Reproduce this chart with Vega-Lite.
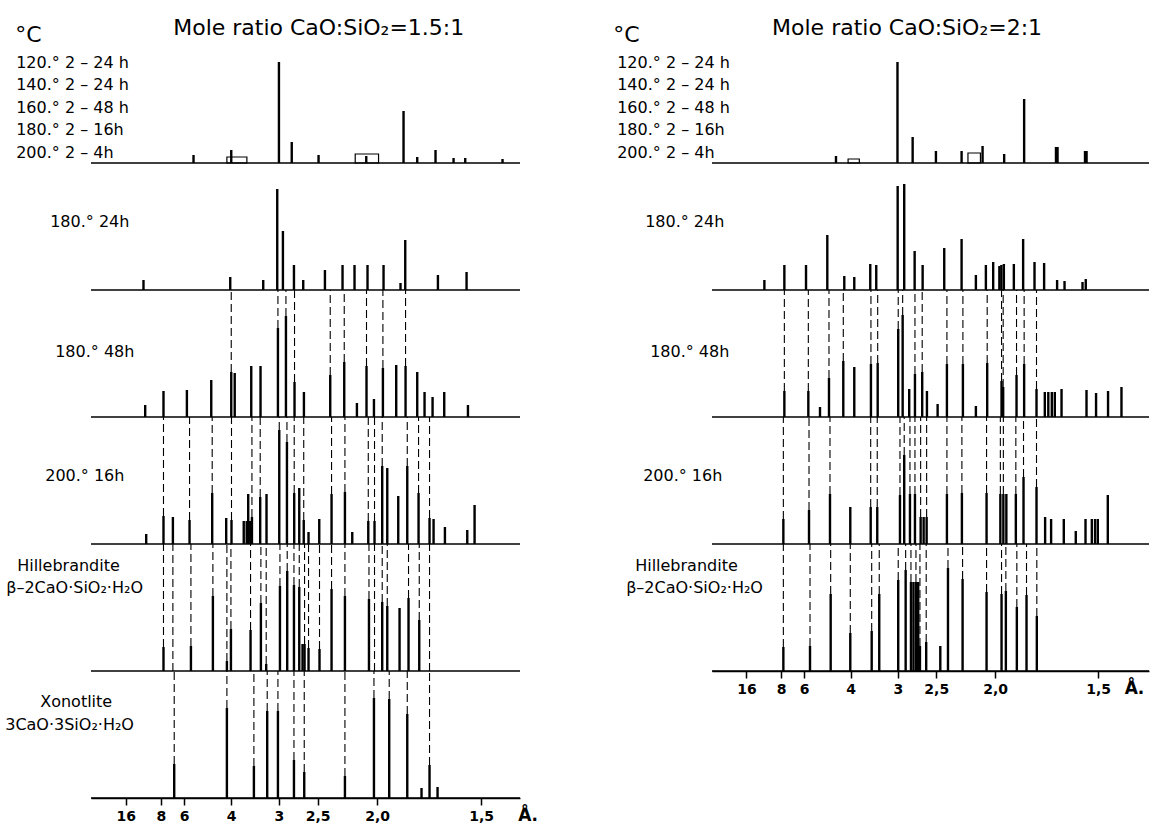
{
  "$schema": "https://vega.github.io/schema/vega-lite/v6.json",
  "background": "white",
  "padding": {"left": 5, "top": 17, "right": 5, "bottom": 2},
  "spacing": 75,
  "config": {
    "view": {"stroke": null},
    "font": "DejaVu Sans",
    "axisX": {
      "title": null, "grid": false,
      "domain": true, "domainColor": "#000", "domainWidth": 1.6,
      "ticks": true, "tickColor": "#000", "tickSize": 7, "tickWidth": 1.5,
      "labelFont": "DejaVu Sans", "labelFontWeight": "bold", "labelFontSize": 14,
      "labelColor": "#000", "labelPadding": 4, "labelOverlap": false
    },
    "rule": {"color": "#000"},
    "text": {"color": "#000", "font": "DejaVu Sans", "align": "left", "baseline": "alphabetic"}
  },
  "datasets": {
    "xrd": [
      {"ratio": "1.5:1", "r": 1, "k": "base", "i": 0},
      {"ratio": "1.5:1", "r": 2, "k": "base", "i": 0},
      {"ratio": "1.5:1", "r": 3, "k": "base", "i": 0},
      {"ratio": "1.5:1", "r": 4, "k": "base", "i": 0},
      {"ratio": "1.5:1", "r": 5, "k": "base", "i": 0},
      {"ratio": "1.5:1", "r": 6, "k": "base", "i": 0},
      {"ratio": "2:1", "r": 1, "k": "base", "i": 0},
      {"ratio": "2:1", "r": 2, "k": "base", "i": 0},
      {"ratio": "2:1", "r": 3, "k": "base", "i": 0},
      {"ratio": "2:1", "r": 4, "k": "base", "i": 0},
      {"ratio": "2:1", "r": 5, "k": "base", "i": 0},

      {"ratio": "1.5:1", "r": 1, "k": "title", "t": -12.02, "i": 121, "txt": "°C"},
      {"ratio": "1.5:1", "r": 1, "k": "title", "t": 13.03, "i": 128, "txt": "Mole ratio CaO:SiO₂=1.5:1"},
      {"ratio": "1.5:1", "r": 1, "k": "label", "t": -11.86, "i": 95, "txt": "120.° 2 – 24 h"},
      {"ratio": "1.5:1", "r": 1, "k": "label", "t": -11.86, "i": 73, "txt": "140.° 2 – 24 h"},
      {"ratio": "1.5:1", "r": 1, "k": "label", "t": -11.86, "i": 50, "txt": "160.° 2 – 48 h"},
      {"ratio": "1.5:1", "r": 1, "k": "label", "t": -11.86, "i": 28, "txt": "180.° 2 – 16h"},
      {"ratio": "1.5:1", "r": 1, "k": "label", "t": -11.86, "i": 5, "txt": "200.° 2 – 4h"},
      {"ratio": "1.5:1", "r": 2, "k": "label", "t": -6.47, "i": 63, "txt": "180.° 24h"},
      {"ratio": "1.5:1", "r": 3, "k": "label", "t": -5.68, "i": 60, "txt": "180.° 48h"},
      {"ratio": "1.5:1", "r": 4, "k": "label", "t": -7.26, "i": 63, "txt": "200.° 16h"},
      {"ratio": "1.5:1", "r": 5, "k": "label", "t": -11.7, "i": 100, "txt": "Hillebrandite"},
      {"ratio": "1.5:1", "r": 5, "k": "label", "t": -13.44, "i": 78, "txt": "β–2CaO·SiO₂·H₂O"},
      {"ratio": "1.5:1", "r": 6, "k": "label", "t": -8.05, "i": 91, "txt": "Xonotlite"},
      {"ratio": "1.5:1", "r": 6, "k": "label", "t": -13.6, "i": 68, "txt": "3CaO·3SiO₂·H₂O"},
      {"ratio": "1.5:1", "r": 6, "k": "unit", "t": 67.72, "i": -23, "txt": "Å."},

      {"ratio": "2:1", "r": 1, "k": "title", "t": -15.83, "i": 121, "txt": "°C"},
      {"ratio": "2:1", "r": 1, "k": "title", "t": 9.62, "i": 128, "txt": "Mole ratio CaO:SiO₂=2:1"},
      {"ratio": "2:1", "r": 1, "k": "label", "t": -15.19, "i": 95, "txt": "120.° 2 – 24 h"},
      {"ratio": "2:1", "r": 1, "k": "label", "t": -15.19, "i": 73, "txt": "140.° 2 – 24 h"},
      {"ratio": "2:1", "r": 1, "k": "label", "t": -15.19, "i": 50, "txt": "160.° 2 – 48 h"},
      {"ratio": "2:1", "r": 1, "k": "label", "t": -15.19, "i": 28, "txt": "180.° 2 – 16h"},
      {"ratio": "2:1", "r": 1, "k": "label", "t": -15.19, "i": 5, "txt": "200.° 2 – 4h"},
      {"ratio": "2:1", "r": 2, "k": "label", "t": -10.71, "i": 63, "txt": "180.° 24h"},
      {"ratio": "2:1", "r": 3, "k": "label", "t": -9.91, "i": 60, "txt": "180.° 48h"},
      {"ratio": "2:1", "r": 4, "k": "label", "t": -11.03, "i": 63, "txt": "200.° 16h"},
      {"ratio": "2:1", "r": 5, "k": "label", "t": -12.31, "i": 100, "txt": "Hillebrandite"},
      {"ratio": "2:1", "r": 5, "k": "label", "t": -13.75, "i": 78, "txt": "β–2CaO·SiO₂·H₂O"},
      {"ratio": "2:1", "r": 5, "k": "unit", "t": 66.1, "i": -23, "txt": "Å."},

      {"ratio": "1.5:1", "r": 1, "k": "hump", "t": 21.54, "t2": 24.71, "i": 6},
      {"ratio": "1.5:1", "r": 1, "k": "hump", "t": 41.88, "t2": 45.58, "i": 9},
      {"ratio": "2:1", "r": 1, "k": "hump", "t": 21.8, "t2": 23.6, "i": 4},
      {"ratio": "2:1", "r": 1, "k": "hump", "t": 41.0, "t2": 43.0, "i": 10},

      {"ratio": "1.5:1", "r": 1, "k": "peak", "t": 16.25, "i": 8},
      {"ratio": "1.5:1", "r": 1, "k": "peak", "t": 22.23, "i": 13},
      {"ratio": "1.5:1", "r": 1, "k": "peak", "t": 29.79, "i": 101},
      {"ratio": "1.5:1", "r": 1, "k": "peak", "t": 31.82, "i": 21},
      {"ratio": "1.5:1", "r": 1, "k": "peak", "t": 36.07, "i": 8},
      {"ratio": "1.5:1", "r": 1, "k": "peak", "t": 43.63, "i": 7},
      {"ratio": "1.5:1", "r": 1, "k": "peak", "t": 49.54, "i": 52},
      {"ratio": "1.5:1", "r": 1, "k": "peak", "t": 51.71, "i": 6},
      {"ratio": "1.5:1", "r": 1, "k": "peak", "t": 54.61, "i": 13},
      {"ratio": "1.5:1", "r": 1, "k": "peak", "t": 57.47, "i": 5},
      {"ratio": "1.5:1", "r": 1, "k": "peak", "t": 59.32, "i": 5},
      {"ratio": "1.5:1", "r": 1, "k": "peak", "t": 65.23, "i": 4},

      {"ratio": "1.5:1", "r": 2, "k": "peak", "t": 8.32, "i": 10},
      {"ratio": "1.5:1", "r": 2, "k": "peak", "t": 22.07, "i": 13},
      {"ratio": "1.5:1", "r": 2, "k": "peak", "t": 27.3, "i": 10},
      {"ratio": "1.5:1", "r": 2, "k": "peak", "t": 29.52, "i": 101},
      {"ratio": "1.5:1", "r": 2, "k": "peak", "t": 30.42, "i": 59},
      {"ratio": "1.5:1", "r": 2, "k": "peak", "t": 32.17, "i": 25},
      {"ratio": "1.5:1", "r": 2, "k": "peak", "t": 33.64, "i": 10},
      {"ratio": "1.5:1", "r": 2, "k": "peak", "t": 37.08, "i": 20},
      {"ratio": "1.5:1", "r": 2, "k": "peak", "t": 39.87, "i": 25},
      {"ratio": "1.5:1", "r": 2, "k": "peak", "t": 41.77, "i": 25},
      {"ratio": "1.5:1", "r": 2, "k": "peak", "t": 43.83, "i": 25},
      {"ratio": "1.5:1", "r": 2, "k": "peak", "t": 46.37, "i": 25},
      {"ratio": "1.5:1", "r": 2, "k": "peak", "t": 49.06, "i": 7},
      {"ratio": "1.5:1", "r": 2, "k": "peak", "t": 49.81, "i": 50},
      {"ratio": "1.5:1", "r": 2, "k": "peak", "t": 54.99, "i": 15},
      {"ratio": "1.5:1", "r": 2, "k": "peak", "t": 59.53, "i": 18},

      {"ratio": "1.5:1", "r": 3, "k": "peak", "t": 8.59, "i": 12},
      {"ratio": "1.5:1", "r": 3, "k": "peak", "t": 11.49, "i": 26},
      {"ratio": "1.5:1", "r": 3, "k": "peak", "t": 15.2, "i": 27},
      {"ratio": "1.5:1", "r": 3, "k": "peak", "t": 19.06, "i": 37},
      {"ratio": "1.5:1", "r": 3, "k": "peak", "t": 22.23, "i": 45, "l": 1},
      {"ratio": "1.5:1", "r": 3, "k": "peak", "t": 22.78, "i": 44},
      {"ratio": "1.5:1", "r": 3, "k": "peak", "t": 25.4, "i": 51},
      {"ratio": "1.5:1", "r": 3, "k": "peak", "t": 26.87, "i": 51},
      {"ratio": "1.5:1", "r": 3, "k": "peak", "t": 29.63, "i": 89, "l": 1},
      {"ratio": "1.5:1", "r": 3, "k": "peak", "t": 30.9, "i": 101, "l": 1},
      {"ratio": "1.5:1", "r": 3, "k": "peak", "t": 32.26, "i": 35, "l": 1},
      {"ratio": "1.5:1", "r": 3, "k": "peak", "t": 33.75, "i": 25},
      {"ratio": "1.5:1", "r": 3, "k": "peak", "t": 37.92, "i": 42, "l": 1},
      {"ratio": "1.5:1", "r": 3, "k": "peak", "t": 40.14, "i": 55, "l": 1},
      {"ratio": "1.5:1", "r": 3, "k": "peak", "t": 42.15, "i": 14},
      {"ratio": "1.5:1", "r": 3, "k": "peak", "t": 43.67, "i": 51, "l": 1},
      {"ratio": "1.5:1", "r": 3, "k": "peak", "t": 44.85, "i": 18},
      {"ratio": "1.5:1", "r": 3, "k": "peak", "t": 46.27, "i": 49, "l": 1},
      {"ratio": "1.5:1", "r": 3, "k": "peak", "t": 48.38, "i": 52},
      {"ratio": "1.5:1", "r": 3, "k": "peak", "t": 49.86, "i": 51, "l": 1},
      {"ratio": "1.5:1", "r": 3, "k": "peak", "t": 51.71, "i": 45},
      {"ratio": "1.5:1", "r": 3, "k": "peak", "t": 52.87, "i": 25},
      {"ratio": "1.5:1", "r": 3, "k": "peak", "t": 54.14, "i": 20},
      {"ratio": "1.5:1", "r": 3, "k": "peak", "t": 55.99, "i": 25},
      {"ratio": "1.5:1", "r": 3, "k": "peak", "t": 59.75, "i": 12},

      {"ratio": "1.5:1", "r": 4, "k": "peak", "t": 8.75, "i": 10},
      {"ratio": "1.5:1", "r": 4, "k": "peak", "t": 11.49, "i": 28, "l": 1},
      {"ratio": "1.5:1", "r": 4, "k": "peak", "t": 12.98, "i": 27},
      {"ratio": "1.5:1", "r": 4, "k": "peak", "t": 15.62, "i": 24, "l": 1},
      {"ratio": "1.5:1", "r": 4, "k": "peak", "t": 19.21, "i": 51, "l": 1},
      {"ratio": "1.5:1", "r": 4, "k": "peak", "t": 21.43, "i": 26},
      {"ratio": "1.5:1", "r": 4, "k": "peak", "t": 22.27, "i": 24, "l": 1},
      {"ratio": "1.5:1", "r": 4, "k": "peak", "t": 24.21, "i": 23},
      {"ratio": "1.5:1", "r": 4, "k": "peak", "t": 24.68, "i": 23},
      {"ratio": "1.5:1", "r": 4, "k": "peak", "t": 24.92, "i": 50},
      {"ratio": "1.5:1", "r": 4, "k": "peak", "t": 25.24, "i": 23},
      {"ratio": "1.5:1", "r": 4, "k": "peak", "t": 25.51, "i": 27, "l": 1},
      {"ratio": "1.5:1", "r": 4, "k": "peak", "t": 26.82, "i": 47, "l": 1},
      {"ratio": "1.5:1", "r": 4, "k": "peak", "t": 27.82, "i": 50},
      {"ratio": "1.5:1", "r": 4, "k": "peak", "t": 29.84, "i": 114, "l": 1},
      {"ratio": "1.5:1", "r": 4, "k": "peak", "t": 31.06, "i": 102, "l": 1},
      {"ratio": "1.5:1", "r": 4, "k": "peak", "t": 32.21, "i": 51, "l": 1},
      {"ratio": "1.5:1", "r": 4, "k": "peak", "t": 33.01, "i": 56},
      {"ratio": "1.5:1", "r": 4, "k": "peak", "t": 33.72, "i": 24, "l": 1},
      {"ratio": "1.5:1", "r": 4, "k": "peak", "t": 34.48, "i": 12},
      {"ratio": "1.5:1", "r": 4, "k": "peak", "t": 36.18, "i": 25},
      {"ratio": "1.5:1", "r": 4, "k": "peak", "t": 38.13, "i": 50, "l": 1},
      {"ratio": "1.5:1", "r": 4, "k": "peak", "t": 40.25, "i": 52, "l": 1},
      {"ratio": "1.5:1", "r": 4, "k": "peak", "t": 41.41, "i": 12},
      {"ratio": "1.5:1", "r": 4, "k": "peak", "t": 43.95, "i": 23, "l": 1},
      {"ratio": "1.5:1", "r": 4, "k": "peak", "t": 44.94, "i": 23, "l": 1},
      {"ratio": "1.5:1", "r": 4, "k": "peak", "t": 46.16, "i": 78, "l": 1},
      {"ratio": "1.5:1", "r": 4, "k": "peak", "t": 46.96, "i": 76},
      {"ratio": "1.5:1", "r": 4, "k": "peak", "t": 48.7, "i": 48},
      {"ratio": "1.5:1", "r": 4, "k": "peak", "t": 50.13, "i": 78, "l": 1},
      {"ratio": "1.5:1", "r": 4, "k": "peak", "t": 51.92, "i": 51, "l": 1},
      {"ratio": "1.5:1", "r": 4, "k": "peak", "t": 53.66, "i": 26, "l": 1},
      {"ratio": "1.5:1", "r": 4, "k": "peak", "t": 54.3, "i": 25},
      {"ratio": "1.5:1", "r": 4, "k": "peak", "t": 56.1, "i": 17},
      {"ratio": "1.5:1", "r": 4, "k": "peak", "t": 59.64, "i": 14},
      {"ratio": "1.5:1", "r": 4, "k": "peak", "t": 60.8, "i": 39},

      {"ratio": "1.5:1", "r": 5, "k": "peak", "t": 11.49, "i": 24, "l": 1},
      {"ratio": "1.5:1", "r": 5, "k": "peak", "t": 12.98, "i": 0, "l": 1},
      {"ratio": "1.5:1", "r": 5, "k": "peak", "t": 15.84, "i": 25, "l": 1},
      {"ratio": "1.5:1", "r": 5, "k": "peak", "t": 19.32, "i": 75, "l": 1},
      {"ratio": "1.5:1", "r": 5, "k": "peak", "t": 21.54, "i": 10, "l": 1},
      {"ratio": "1.5:1", "r": 5, "k": "peak", "t": 22.18, "i": 42, "l": 1},
      {"ratio": "1.5:1", "r": 5, "k": "peak", "t": 25.29, "i": 41, "l": 1},
      {"ratio": "1.5:1", "r": 5, "k": "peak", "t": 26.93, "i": 68, "l": 1},
      {"ratio": "1.5:1", "r": 5, "k": "peak", "t": 27.77, "i": 7, "l": 1},
      {"ratio": "1.5:1", "r": 5, "k": "peak", "t": 29.95, "i": 85, "l": 1},
      {"ratio": "1.5:1", "r": 5, "k": "peak", "t": 31.1, "i": 100, "l": 1},
      {"ratio": "1.5:1", "r": 5, "k": "peak", "t": 32.17, "i": 86, "l": 1},
      {"ratio": "1.5:1", "r": 5, "k": "peak", "t": 33.01, "i": 84, "l": 1},
      {"ratio": "1.5:1", "r": 5, "k": "peak", "t": 33.53, "i": 27},
      {"ratio": "1.5:1", "r": 5, "k": "peak", "t": 33.85, "i": 27, "l": 1},
      {"ratio": "1.5:1", "r": 5, "k": "peak", "t": 34.48, "i": 23, "l": 1},
      {"ratio": "1.5:1", "r": 5, "k": "peak", "t": 36.22, "i": 22, "l": 1},
      {"ratio": "1.5:1", "r": 5, "k": "peak", "t": 38.13, "i": 82, "l": 1},
      {"ratio": "1.5:1", "r": 5, "k": "peak", "t": 40.25, "i": 75, "l": 1},
      {"ratio": "1.5:1", "r": 5, "k": "peak", "t": 44.06, "i": 72, "l": 1},
      {"ratio": "1.5:1", "r": 5, "k": "peak", "t": 44.94, "i": 0, "l": 1},
      {"ratio": "1.5:1", "r": 5, "k": "peak", "t": 46.16, "i": 69, "l": 1},
      {"ratio": "1.5:1", "r": 5, "k": "peak", "t": 46.96, "i": 65, "l": 1},
      {"ratio": "1.5:1", "r": 5, "k": "peak", "t": 48.91, "i": 63},
      {"ratio": "1.5:1", "r": 5, "k": "peak", "t": 50.33, "i": 73, "l": 1},
      {"ratio": "1.5:1", "r": 5, "k": "peak", "t": 52.03, "i": 51, "l": 1},
      {"ratio": "1.5:1", "r": 5, "k": "peak", "t": 53.66, "i": 0, "l": 1},

      {"ratio": "1.5:1", "r": 6, "k": "peak", "t": 13.19, "i": 34, "l": 1},
      {"ratio": "1.5:1", "r": 6, "k": "peak", "t": 21.54, "i": 90, "l": 1},
      {"ratio": "1.5:1", "r": 6, "k": "peak", "t": 25.82, "i": 32, "l": 1},
      {"ratio": "1.5:1", "r": 6, "k": "peak", "t": 27.93, "i": 87, "l": 1},
      {"ratio": "1.5:1", "r": 6, "k": "peak", "t": 29.63, "i": 87, "l": 1},
      {"ratio": "1.5:1", "r": 6, "k": "peak", "t": 32.17, "i": 38, "l": 1},
      {"ratio": "1.5:1", "r": 6, "k": "peak", "t": 33.8, "i": 26, "l": 1},
      {"ratio": "1.5:1", "r": 6, "k": "peak", "t": 40.25, "i": 22, "l": 1},
      {"ratio": "1.5:1", "r": 6, "k": "peak", "t": 44.85, "i": 100, "l": 1},
      {"ratio": "1.5:1", "r": 6, "k": "peak", "t": 47.27, "i": 99, "l": 1},
      {"ratio": "1.5:1", "r": 6, "k": "peak", "t": 50.13, "i": 84, "l": 1},
      {"ratio": "1.5:1", "r": 6, "k": "peak", "t": 52.39, "i": 10},
      {"ratio": "1.5:1", "r": 6, "k": "peak", "t": 53.66, "i": 33, "l": 1},
      {"ratio": "1.5:1", "r": 6, "k": "peak", "t": 54.93, "i": 11},

      {"ratio": "2:1", "r": 1, "k": "peak", "t": 19.86, "i": 7},
      {"ratio": "2:1", "r": 1, "k": "peak", "t": 29.71, "i": 101},
      {"ratio": "2:1", "r": 1, "k": "peak", "t": 32.14, "i": 26},
      {"ratio": "2:1", "r": 1, "k": "peak", "t": 35.87, "i": 12},
      {"ratio": "2:1", "r": 1, "k": "peak", "t": 39.98, "i": 12},
      {"ratio": "2:1", "r": 1, "k": "peak", "t": 43.34, "i": 17},
      {"ratio": "2:1", "r": 1, "k": "peak", "t": 46.8, "i": 9},
      {"ratio": "2:1", "r": 1, "k": "peak", "t": 50.0, "i": 64},
      {"ratio": "2:1", "r": 1, "k": "peak", "t": 55.1, "i": 16},
      {"ratio": "2:1", "r": 1, "k": "peak", "t": 55.35, "i": 16},
      {"ratio": "2:1", "r": 1, "k": "peak", "t": 59.75, "i": 12},
      {"ratio": "2:1", "r": 1, "k": "peak", "t": 60.0, "i": 12},

      {"ratio": "2:1", "r": 2, "k": "peak", "t": 8.39, "i": 10},
      {"ratio": "2:1", "r": 2, "k": "peak", "t": 11.59, "i": 25},
      {"ratio": "2:1", "r": 2, "k": "peak", "t": 15.06, "i": 25},
      {"ratio": "2:1", "r": 2, "k": "peak", "t": 18.47, "i": 55},
      {"ratio": "2:1", "r": 2, "k": "peak", "t": 21.19, "i": 14},
      {"ratio": "2:1", "r": 2, "k": "peak", "t": 22.79, "i": 13},
      {"ratio": "2:1", "r": 2, "k": "peak", "t": 25.35, "i": 26},
      {"ratio": "2:1", "r": 2, "k": "peak", "t": 26.31, "i": 25},
      {"ratio": "2:1", "r": 2, "k": "peak", "t": 29.74, "i": 104},
      {"ratio": "2:1", "r": 2, "k": "peak", "t": 30.79, "i": 106},
      {"ratio": "2:1", "r": 2, "k": "peak", "t": 32.46, "i": 39},
      {"ratio": "2:1", "r": 2, "k": "peak", "t": 33.74, "i": 25},
      {"ratio": "2:1", "r": 2, "k": "peak", "t": 37.2, "i": 42},
      {"ratio": "2:1", "r": 2, "k": "peak", "t": 39.98, "i": 51},
      {"ratio": "2:1", "r": 2, "k": "peak", "t": 42.27, "i": 15},
      {"ratio": "2:1", "r": 2, "k": "peak", "t": 43.87, "i": 25},
      {"ratio": "2:1", "r": 2, "k": "peak", "t": 45.04, "i": 28},
      {"ratio": "2:1", "r": 2, "k": "peak", "t": 46.03, "i": 24},
      {"ratio": "2:1", "r": 2, "k": "peak", "t": 46.35, "i": 25},
      {"ratio": "2:1", "r": 2, "k": "peak", "t": 46.75, "i": 26},
      {"ratio": "2:1", "r": 2, "k": "peak", "t": 48.35, "i": 26},
      {"ratio": "2:1", "r": 2, "k": "peak", "t": 49.84, "i": 51},
      {"ratio": "2:1", "r": 2, "k": "peak", "t": 51.66, "i": 28},
      {"ratio": "2:1", "r": 2, "k": "peak", "t": 53.2, "i": 27},
      {"ratio": "2:1", "r": 2, "k": "peak", "t": 55.28, "i": 10},
      {"ratio": "2:1", "r": 2, "k": "peak", "t": 56.47, "i": 9},
      {"ratio": "2:1", "r": 2, "k": "peak", "t": 59.35, "i": 8},
      {"ratio": "2:1", "r": 2, "k": "peak", "t": 59.87, "i": 11},

      {"ratio": "2:1", "r": 3, "k": "peak", "t": 11.59, "i": 26, "l": 1},
      {"ratio": "2:1", "r": 3, "k": "peak", "t": 15.43, "i": 26, "l": 1},
      {"ratio": "2:1", "r": 3, "k": "peak", "t": 17.3, "i": 10},
      {"ratio": "2:1", "r": 3, "k": "peak", "t": 18.74, "i": 39, "l": 1},
      {"ratio": "2:1", "r": 3, "k": "peak", "t": 21.03, "i": 56, "l": 1},
      {"ratio": "2:1", "r": 3, "k": "peak", "t": 22.79, "i": 50},
      {"ratio": "2:1", "r": 3, "k": "peak", "t": 25.46, "i": 53, "l": 1},
      {"ratio": "2:1", "r": 3, "k": "peak", "t": 26.54, "i": 54, "l": 1},
      {"ratio": "2:1", "r": 3, "k": "peak", "t": 29.83, "i": 88, "l": 1},
      {"ratio": "2:1", "r": 3, "k": "peak", "t": 30.54, "i": 102, "l": 1},
      {"ratio": "2:1", "r": 3, "k": "peak", "t": 31.59, "i": 28},
      {"ratio": "2:1", "r": 3, "k": "peak", "t": 32.51, "i": 43, "l": 1},
      {"ratio": "2:1", "r": 3, "k": "peak", "t": 33.67, "i": 45, "l": 1},
      {"ratio": "2:1", "r": 3, "k": "peak", "t": 34.43, "i": 26},
      {"ratio": "2:1", "r": 3, "k": "peak", "t": 36.14, "i": 13},
      {"ratio": "2:1", "r": 3, "k": "peak", "t": 37.63, "i": 53, "l": 1},
      {"ratio": "2:1", "r": 3, "k": "peak", "t": 40.19, "i": 53, "l": 1},
      {"ratio": "2:1", "r": 3, "k": "peak", "t": 42.27, "i": 11},
      {"ratio": "2:1", "r": 3, "k": "peak", "t": 44.08, "i": 54, "l": 1},
      {"ratio": "2:1", "r": 3, "k": "peak", "t": 46.38, "i": 36, "l": 1},
      {"ratio": "2:1", "r": 3, "k": "peak", "t": 46.64, "i": 30, "l": 1},
      {"ratio": "2:1", "r": 3, "k": "peak", "t": 48.78, "i": 42, "l": 1},
      {"ratio": "2:1", "r": 3, "k": "peak", "t": 50.0, "i": 53, "l": 1},
      {"ratio": "2:1", "r": 3, "k": "peak", "t": 51.98, "i": 28, "l": 1},
      {"ratio": "2:1", "r": 3, "k": "peak", "t": 53.31, "i": 25},
      {"ratio": "2:1", "r": 3, "k": "peak", "t": 53.87, "i": 25},
      {"ratio": "2:1", "r": 3, "k": "peak", "t": 54.43, "i": 25},
      {"ratio": "2:1", "r": 3, "k": "peak", "t": 54.91, "i": 25},
      {"ratio": "2:1", "r": 3, "k": "peak", "t": 55.99, "i": 28},
      {"ratio": "2:1", "r": 3, "k": "peak", "t": 59.99, "i": 27},
      {"ratio": "2:1", "r": 3, "k": "peak", "t": 61.52, "i": 24},
      {"ratio": "2:1", "r": 3, "k": "peak", "t": 63.44, "i": 26},
      {"ratio": "2:1", "r": 3, "k": "peak", "t": 65.59, "i": 30},

      {"ratio": "2:1", "r": 4, "k": "peak", "t": 11.43, "i": 25, "l": 1},
      {"ratio": "2:1", "r": 4, "k": "peak", "t": 15.54, "i": 34, "l": 1},
      {"ratio": "2:1", "r": 4, "k": "peak", "t": 18.9, "i": 50, "l": 1},
      {"ratio": "2:1", "r": 4, "k": "peak", "t": 22.15, "i": 37},
      {"ratio": "2:1", "r": 4, "k": "peak", "t": 25.42, "i": 37, "l": 1},
      {"ratio": "2:1", "r": 4, "k": "peak", "t": 26.47, "i": 37, "l": 1},
      {"ratio": "2:1", "r": 4, "k": "peak", "t": 30.11, "i": 49, "l": 1},
      {"ratio": "2:1", "r": 4, "k": "peak", "t": 30.79, "i": 89, "l": 1},
      {"ratio": "2:1", "r": 4, "k": "peak", "t": 31.71, "i": 50, "l": 1},
      {"ratio": "2:1", "r": 4, "k": "peak", "t": 32.51, "i": 50, "l": 1},
      {"ratio": "2:1", "r": 4, "k": "peak", "t": 33.42, "i": 27, "l": 1},
      {"ratio": "2:1", "r": 4, "k": "peak", "t": 33.9, "i": 27},
      {"ratio": "2:1", "r": 4, "k": "peak", "t": 34.38, "i": 27, "l": 1},
      {"ratio": "2:1", "r": 4, "k": "peak", "t": 37.63, "i": 50, "l": 1},
      {"ratio": "2:1", "r": 4, "k": "peak", "t": 40.03, "i": 51, "l": 1},
      {"ratio": "2:1", "r": 4, "k": "peak", "t": 43.98, "i": 51, "l": 1},
      {"ratio": "2:1", "r": 4, "k": "peak", "t": 46.19, "i": 50, "l": 1},
      {"ratio": "2:1", "r": 4, "k": "peak", "t": 46.67, "i": 50, "l": 1},
      {"ratio": "2:1", "r": 4, "k": "peak", "t": 47.15, "i": 50},
      {"ratio": "2:1", "r": 4, "k": "peak", "t": 48.67, "i": 50, "l": 1},
      {"ratio": "2:1", "r": 4, "k": "peak", "t": 49.9, "i": 67, "l": 1},
      {"ratio": "2:1", "r": 4, "k": "peak", "t": 51.98, "i": 57, "l": 1},
      {"ratio": "2:1", "r": 4, "k": "peak", "t": 53.36, "i": 27},
      {"ratio": "2:1", "r": 4, "k": "peak", "t": 54.32, "i": 25},
      {"ratio": "2:1", "r": 4, "k": "peak", "t": 56.35, "i": 25},
      {"ratio": "2:1", "r": 4, "k": "peak", "t": 58.27, "i": 13},
      {"ratio": "2:1", "r": 4, "k": "peak", "t": 59.83, "i": 25},
      {"ratio": "2:1", "r": 4, "k": "peak", "t": 60.84, "i": 25},
      {"ratio": "2:1", "r": 4, "k": "peak", "t": 61.36, "i": 25},
      {"ratio": "2:1", "r": 4, "k": "peak", "t": 61.8, "i": 25},
      {"ratio": "2:1", "r": 4, "k": "peak", "t": 63.4, "i": 49},

      {"ratio": "2:1", "r": 5, "k": "peak", "t": 11.43, "i": 24, "l": 1},
      {"ratio": "2:1", "r": 5, "k": "peak", "t": 15.7, "i": 25, "l": 1},
      {"ratio": "2:1", "r": 5, "k": "peak", "t": 19.01, "i": 77, "l": 1},
      {"ratio": "2:1", "r": 5, "k": "peak", "t": 22.15, "i": 38, "l": 1},
      {"ratio": "2:1", "r": 5, "k": "peak", "t": 25.58, "i": 40, "l": 1},
      {"ratio": "2:1", "r": 5, "k": "peak", "t": 26.79, "i": 77, "l": 1},
      {"ratio": "2:1", "r": 5, "k": "peak", "t": 29.83, "i": 91, "l": 1},
      {"ratio": "2:1", "r": 5, "k": "peak", "t": 31.02, "i": 101, "l": 1},
      {"ratio": "2:1", "r": 5, "k": "peak", "t": 31.87, "i": 89, "l": 1},
      {"ratio": "2:1", "r": 5, "k": "peak", "t": 32.27, "i": 89},
      {"ratio": "2:1", "r": 5, "k": "peak", "t": 32.67, "i": 89, "l": 1},
      {"ratio": "2:1", "r": 5, "k": "peak", "t": 33.03, "i": 89},
      {"ratio": "2:1", "r": 5, "k": "peak", "t": 33.31, "i": 25, "l": 1},
      {"ratio": "2:1", "r": 5, "k": "peak", "t": 34.31, "i": 29, "l": 1},
      {"ratio": "2:1", "r": 5, "k": "peak", "t": 36.57, "i": 25},
      {"ratio": "2:1", "r": 5, "k": "peak", "t": 37.8, "i": 103, "l": 1},
      {"ratio": "2:1", "r": 5, "k": "peak", "t": 40.14, "i": 92, "l": 1},
      {"ratio": "2:1", "r": 5, "k": "peak", "t": 43.98, "i": 79, "l": 1},
      {"ratio": "2:1", "r": 5, "k": "peak", "t": 46.38, "i": 77, "l": 1},
      {"ratio": "2:1", "r": 5, "k": "peak", "t": 47.07, "i": 80, "l": 1},
      {"ratio": "2:1", "r": 5, "k": "peak", "t": 48.83, "i": 64, "l": 1},
      {"ratio": "2:1", "r": 5, "k": "peak", "t": 50.38, "i": 76, "l": 1},
      {"ratio": "2:1", "r": 5, "k": "peak", "t": 52.03, "i": 55, "l": 1}
    ]
  },
  "hconcat": [
    {
      "data": {"name": "xrd"},
      "transform": [{"filter": "datum.ratio == '1.5:1'"}],
      "facet": {"row": {"field": "r", "type": "ordinal", "header": {"title": null, "labels": false}}},
      "spacing": 0,
      "bounds": "flush",
      "spec": {
        "width": 429,
        "height": 127,
        "encoding": {
          "y": {"field": "i", "type": "quantitative", "scale": {"domain": [0, 127], "nice": false, "zero": false}, "axis": null}
        },
        "layer": [
          {
            "transform": [{"filter": "datum.k == 'base'"}],
            "mark": {"type": "rule", "strokeWidth": 1.6}
          },
          {
            "transform": [{"filter": "datum.k == 'peak' && datum.l == 1"}],
            "mark": {"type": "rule", "strokeWidth": 1.1, "strokeDash": [8, 4]},
            "encoding": {
              "x": {"field": "t", "type": "quantitative", "scale": {"domain": [0, 68], "nice": false, "zero": false},
                    "axis": {"values": [5.52, 11.06, 14.76, 22.22, 29.78, 35.92, 45.34, 61.85],
                             "labelExpr": "datum.value < 8 ? '16' : datum.value < 12 ? '8' : datum.value < 18 ? '6' : datum.value < 25 ? '4' : datum.value < 32 ? '3' : datum.value < 40 ? '2,5' : datum.value < 50 ? '2,0' : '1,5'"}},
              "y2": {"datum": 127}
            }
          },
          {
            "transform": [{"filter": "datum.k == 'hump'"}],
            "mark": {"type": "rect", "filled": false, "stroke": "#000", "strokeWidth": 1.2},
            "encoding": {
              "x": {"field": "t", "type": "quantitative", "scale": {"domain": [0, 68], "nice": false, "zero": false},
                    "axis": {"values": [5.52, 11.06, 14.76, 22.22, 29.78, 35.92, 45.34, 61.85],
                             "labelExpr": "datum.value < 8 ? '16' : datum.value < 12 ? '8' : datum.value < 18 ? '6' : datum.value < 25 ? '4' : datum.value < 32 ? '3' : datum.value < 40 ? '2,5' : datum.value < 50 ? '2,0' : '1,5'"}},
              "x2": {"field": "t2"},
              "y2": {"datum": 0}
            }
          },
          {
            "transform": [{"filter": "datum.k == 'peak' && datum.i > 0"}],
            "mark": {"type": "rule", "strokeWidth": 2.4, "strokeCap": "butt"},
            "encoding": {
              "x": {"field": "t", "type": "quantitative", "scale": {"domain": [0, 68], "nice": false, "zero": false},
                    "axis": {"values": [5.52, 11.06, 14.76, 22.22, 29.78, 35.92, 45.34, 61.85],
                             "labelExpr": "datum.value < 8 ? '16' : datum.value < 12 ? '8' : datum.value < 18 ? '6' : datum.value < 25 ? '4' : datum.value < 32 ? '3' : datum.value < 40 ? '2,5' : datum.value < 50 ? '2,0' : '1,5'"}},
              "y2": {"datum": 0}
            }
          },
          {
            "transform": [{"filter": "datum.k == 'label'"}],
            "mark": {"type": "text", "fontSize": 16},
            "encoding": {
              "x": {"field": "t", "type": "quantitative", "scale": {"domain": [0, 68], "nice": false, "zero": false},
                    "axis": {"values": [5.52, 11.06, 14.76, 22.22, 29.78, 35.92, 45.34, 61.85],
                             "labelExpr": "datum.value < 8 ? '16' : datum.value < 12 ? '8' : datum.value < 18 ? '6' : datum.value < 25 ? '4' : datum.value < 32 ? '3' : datum.value < 40 ? '2,5' : datum.value < 50 ? '2,0' : '1,5'"}},
              "text": {"field": "txt"}
            }
          },
          {
            "transform": [{"filter": "datum.k == 'title'"}],
            "mark": {"type": "text", "fontSize": 22},
            "encoding": {
              "x": {"field": "t", "type": "quantitative", "scale": {"domain": [0, 68], "nice": false, "zero": false},
                    "axis": {"values": [5.52, 11.06, 14.76, 22.22, 29.78, 35.92, 45.34, 61.85],
                             "labelExpr": "datum.value < 8 ? '16' : datum.value < 12 ? '8' : datum.value < 18 ? '6' : datum.value < 25 ? '4' : datum.value < 32 ? '3' : datum.value < 40 ? '2,5' : datum.value < 50 ? '2,0' : '1,5'"}},
              "text": {"field": "txt"}
            }
          },
          {
            "transform": [{"filter": "datum.k == 'unit'"}],
            "mark": {"type": "text", "fontSize": 17, "fontWeight": "bold"},
            "encoding": {
              "x": {"field": "t", "type": "quantitative", "scale": {"domain": [0, 68], "nice": false, "zero": false},
                    "axis": {"values": [5.52, 11.06, 14.76, 22.22, 29.78, 35.92, 45.34, 61.85],
                             "labelExpr": "datum.value < 8 ? '16' : datum.value < 12 ? '8' : datum.value < 18 ? '6' : datum.value < 25 ? '4' : datum.value < 32 ? '3' : datum.value < 40 ? '2,5' : datum.value < 50 ? '2,0' : '1,5'"}},
              "text": {"field": "txt"}
            }
          }
        ]
      }
    },
    {
      "data": {"name": "xrd"},
      "transform": [{"filter": "datum.ratio == '2:1'"}],
      "facet": {"row": {"field": "r", "type": "ordinal", "header": {"title": null, "labels": false}}},
      "spacing": 0,
      "bounds": "flush",
      "spec": {
        "width": 437,
        "height": 127,
        "encoding": {
          "y": {"field": "i", "type": "quantitative", "scale": {"domain": [0, 127], "nice": false, "zero": false}, "axis": null}
        },
        "layer": [
          {
            "transform": [{"filter": "datum.k == 'base'"}],
            "mark": {"type": "rule", "strokeWidth": 1.6}
          },
          {
            "transform": [{"filter": "datum.k == 'peak' && datum.l == 1"}],
            "mark": {"type": "rule", "strokeWidth": 1.1, "strokeDash": [8, 4]},
            "encoding": {
              "x": {"field": "t", "type": "quantitative", "scale": {"domain": [0, 70], "nice": false, "zero": false},
                    "axis": {"values": [5.52, 11.06, 14.76, 22.22, 29.78, 35.92, 45.34, 61.85],
                             "labelExpr": "datum.value < 8 ? '16' : datum.value < 12 ? '8' : datum.value < 18 ? '6' : datum.value < 25 ? '4' : datum.value < 32 ? '3' : datum.value < 40 ? '2,5' : datum.value < 50 ? '2,0' : '1,5'"}},
              "y2": {"datum": 127}
            }
          },
          {
            "transform": [{"filter": "datum.k == 'hump'"}],
            "mark": {"type": "rect", "filled": false, "stroke": "#000", "strokeWidth": 1.2},
            "encoding": {
              "x": {"field": "t", "type": "quantitative", "scale": {"domain": [0, 70], "nice": false, "zero": false},
                    "axis": {"values": [5.52, 11.06, 14.76, 22.22, 29.78, 35.92, 45.34, 61.85],
                             "labelExpr": "datum.value < 8 ? '16' : datum.value < 12 ? '8' : datum.value < 18 ? '6' : datum.value < 25 ? '4' : datum.value < 32 ? '3' : datum.value < 40 ? '2,5' : datum.value < 50 ? '2,0' : '1,5'"}},
              "x2": {"field": "t2"},
              "y2": {"datum": 0}
            }
          },
          {
            "transform": [{"filter": "datum.k == 'peak' && datum.i > 0"}],
            "mark": {"type": "rule", "strokeWidth": 2.4, "strokeCap": "butt"},
            "encoding": {
              "x": {"field": "t", "type": "quantitative", "scale": {"domain": [0, 70], "nice": false, "zero": false},
                    "axis": {"values": [5.52, 11.06, 14.76, 22.22, 29.78, 35.92, 45.34, 61.85],
                             "labelExpr": "datum.value < 8 ? '16' : datum.value < 12 ? '8' : datum.value < 18 ? '6' : datum.value < 25 ? '4' : datum.value < 32 ? '3' : datum.value < 40 ? '2,5' : datum.value < 50 ? '2,0' : '1,5'"}},
              "y2": {"datum": 0}
            }
          },
          {
            "transform": [{"filter": "datum.k == 'label'"}],
            "mark": {"type": "text", "fontSize": 16},
            "encoding": {
              "x": {"field": "t", "type": "quantitative", "scale": {"domain": [0, 70], "nice": false, "zero": false},
                    "axis": {"values": [5.52, 11.06, 14.76, 22.22, 29.78, 35.92, 45.34, 61.85],
                             "labelExpr": "datum.value < 8 ? '16' : datum.value < 12 ? '8' : datum.value < 18 ? '6' : datum.value < 25 ? '4' : datum.value < 32 ? '3' : datum.value < 40 ? '2,5' : datum.value < 50 ? '2,0' : '1,5'"}},
              "text": {"field": "txt"}
            }
          },
          {
            "transform": [{"filter": "datum.k == 'title'"}],
            "mark": {"type": "text", "fontSize": 22},
            "encoding": {
              "x": {"field": "t", "type": "quantitative", "scale": {"domain": [0, 70], "nice": false, "zero": false},
                    "axis": {"values": [5.52, 11.06, 14.76, 22.22, 29.78, 35.92, 45.34, 61.85],
                             "labelExpr": "datum.value < 8 ? '16' : datum.value < 12 ? '8' : datum.value < 18 ? '6' : datum.value < 25 ? '4' : datum.value < 32 ? '3' : datum.value < 40 ? '2,5' : datum.value < 50 ? '2,0' : '1,5'"}},
              "text": {"field": "txt"}
            }
          },
          {
            "transform": [{"filter": "datum.k == 'unit'"}],
            "mark": {"type": "text", "fontSize": 17, "fontWeight": "bold"},
            "encoding": {
              "x": {"field": "t", "type": "quantitative", "scale": {"domain": [0, 70], "nice": false, "zero": false},
                    "axis": {"values": [5.52, 11.06, 14.76, 22.22, 29.78, 35.92, 45.34, 61.85],
                             "labelExpr": "datum.value < 8 ? '16' : datum.value < 12 ? '8' : datum.value < 18 ? '6' : datum.value < 25 ? '4' : datum.value < 32 ? '3' : datum.value < 40 ? '2,5' : datum.value < 50 ? '2,0' : '1,5'"}},
              "text": {"field": "txt"}
            }
          }
        ]
      }
    }
  ]
}
